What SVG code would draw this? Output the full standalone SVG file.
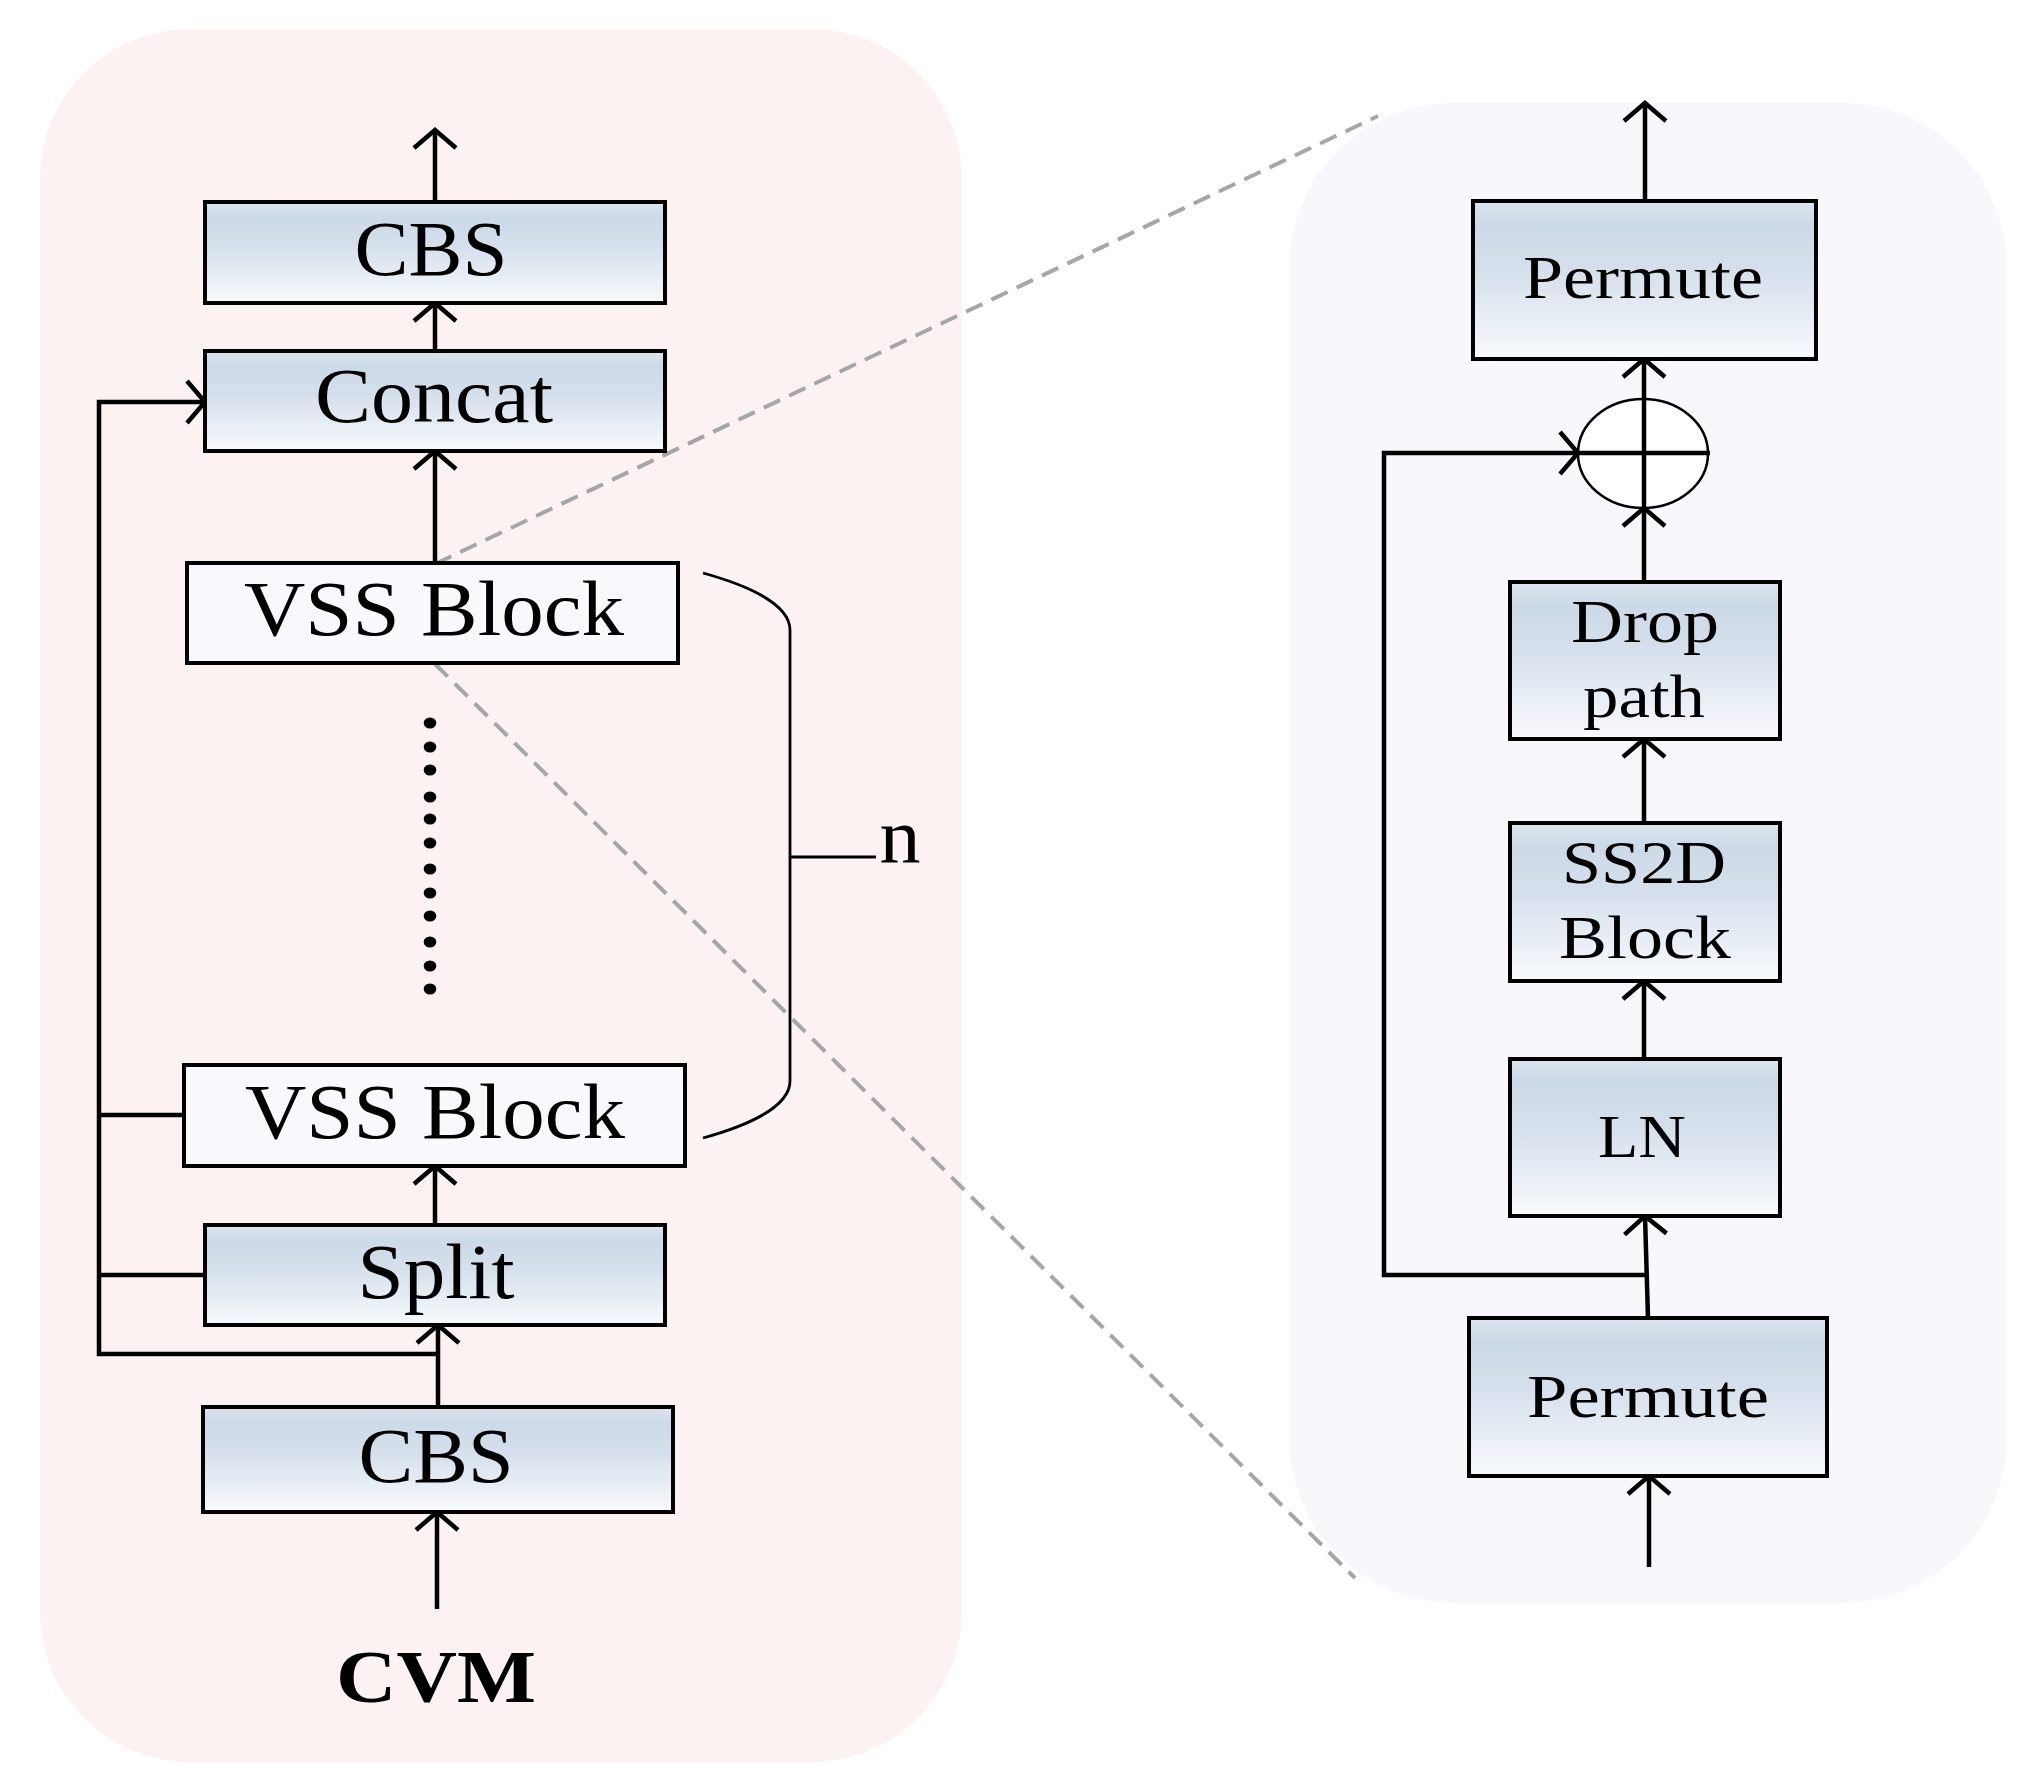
<svg xmlns="http://www.w3.org/2000/svg" width="2037" height="1779" viewBox="0 0 2037 1779">
<defs>
<linearGradient id="boxgrad" x1="0" y1="0" x2="0" y2="1">
<stop offset="0" stop-color="#DCE5EF"/>
<stop offset="0.15" stop-color="#CCD9E7"/>
<stop offset="0.45" stop-color="#D6E0EC"/>
<stop offset="1" stop-color="#F8FAFD"/>
</linearGradient>
<marker id="arr" markerUnits="userSpaceOnUse" viewBox="-24 -26 28 52" refX="0" refY="0" markerWidth="28" markerHeight="52" orient="auto" overflow="visible">
<path d="M-18,-21 L0,0 L-18,21" fill="none" stroke="#000" stroke-width="4.5"/>
</marker>
<style>
.box{fill:url(#boxgrad);stroke:#000;stroke-width:4}
.vss{fill:#F9F8FD;stroke:#000;stroke-width:4}
.t{font-family:"Liberation Serif","Times New Roman",serif;fill:#000;text-anchor:middle}
.tl{font-size:78px}
.tr{font-size:62px}
.ln{fill:none;stroke:#000;stroke-width:4.5}
.ar{fill:none;stroke:#000;stroke-width:4.5;marker-end:url(#arr)}
.dash{fill:none;stroke:#A6A6A6;stroke-width:4;stroke-dasharray:18 10}
.thin{fill:none;stroke:#000;stroke-width:2.8}
</style>
</defs>
<rect x="0" y="0" width="2037" height="1779" fill="#FFFFFF"/>
<g id="panel-left"><rect x="40" y="29" width="922" height="1733" rx="150" ry="150" fill="#FBF2F1"/></g>
<g id="panel-right"><rect x="1289" y="103" width="718" height="1500" rx="165" ry="165" fill="#F8F7FC"/></g>

<g id="connectors">
<!-- left column -->
<line class="ar" x1="435" y1="202" x2="435" y2="130"/>
<line class="ar" x1="435" y1="351" x2="435" y2="303"/>
<line class="ar" x1="435" y1="562" x2="435" y2="451"/>
<polyline class="ar" points="438,1354 99,1354 99,402 205,402"/>
<line class="ln" x1="99" y1="1115" x2="187" y2="1115"/>
<line class="ln" x1="99" y1="1275" x2="205" y2="1275"/>
<line class="ar" x1="438" y1="1407" x2="438" y2="1325"/>
<line class="ar" x1="435" y1="1225" x2="435" y2="1166"/>
<line class="ar" x1="437" y1="1609" x2="437" y2="1512"/>
<!-- brace -->
<path class="thin" d="M703,573 C750,586 790,605 790,630 L790,1081 C790,1106 750,1125 703,1138"/>
<line class="thin" x1="790" y1="857" x2="876" y2="857"/>
<!-- zoom lines -->
<line class="dash" x1="435" y1="564" x2="1378" y2="116"/>
<line class="dash" x1="435" y1="664" x2="1355" y2="1578"/>
<!-- right column -->
<line class="ar" x1="1645" y1="201" x2="1645" y2="103"/>
<line class="ar" x1="1644" y1="582" x2="1644" y2="508"/>
<line class="ar" x1="1644" y1="508" x2="1644" y2="359"/>
<polyline class="ar" points="1647,1275 1384,1275 1384,453 1578,453"/>
<line class="ar" x1="1644" y1="823" x2="1644" y2="739"/>
<line class="ar" x1="1644" y1="1059" x2="1644" y2="981"/>
<line class="ar" x1="1648" y1="1318" x2="1645" y2="1216"/>
<line class="ar" x1="1649" y1="1567" x2="1649" y2="1476"/>
</g>

<g id="dots">
<ellipse cx="430" cy="723" rx="6.3" ry="5.5"/>
<ellipse cx="430" cy="747" rx="6.3" ry="5.5"/>
<ellipse cx="430" cy="770" rx="6.3" ry="5.5"/>
<ellipse cx="430" cy="797" rx="6.3" ry="5.5"/>
<ellipse cx="430" cy="819" rx="6.3" ry="5.5"/>
<ellipse cx="430" cy="843" rx="6.3" ry="5.5"/>
<ellipse cx="430" cy="869" rx="6.3" ry="5.5"/>
<ellipse cx="430" cy="893" rx="6.3" ry="5.5"/>
<ellipse cx="430" cy="916" rx="6.3" ry="5.5"/>
<ellipse cx="430" cy="942" rx="6.3" ry="5.5"/>
<ellipse cx="430" cy="966" rx="6.3" ry="5.5"/>
<ellipse cx="430" cy="989" rx="6.3" ry="5.5"/>
</g>

<g id="cbs-top"><rect class="box" x="205" y="202" width="460" height="101"/><text class="t tl" x="431" y="275" textLength="153" lengthAdjust="spacingAndGlyphs">CBS</text></g>
<g id="concat"><rect class="box" x="205" y="351" width="460" height="100"/><text class="t tl" x="434" y="422" textLength="238" lengthAdjust="spacingAndGlyphs">Concat</text></g>
<g id="vss-top"><rect class="vss" x="187" y="563" width="491" height="100"/><text class="t tl" x="434" y="635" textLength="380" lengthAdjust="spacingAndGlyphs">VSS Block</text></g>
<g id="vss-bottom"><rect class="vss" x="184" y="1065" width="501" height="101"/><text class="t tl" x="435" y="1138" textLength="380" lengthAdjust="spacingAndGlyphs">VSS Block</text></g>
<g id="split"><rect class="box" x="205" y="1225" width="460" height="100"/><text class="t tl" x="436" y="1298" textLength="157" lengthAdjust="spacingAndGlyphs">Split</text></g>
<g id="cbs-bottom"><rect class="box" x="203" y="1407" width="470" height="105"/><text class="t tl" x="436" y="1482" textLength="155" lengthAdjust="spacingAndGlyphs">CBS</text></g>
<g id="cvm-label"><text class="t" x="436" y="1702" font-size="75" font-weight="bold" textLength="200" lengthAdjust="spacingAndGlyphs">CVM</text></g>
<g id="n-label"><text class="t" x="900" y="863" font-size="78" textLength="41" lengthAdjust="spacingAndGlyphs">n</text></g>

<g id="permute-top"><rect class="box" x="1473" y="201" width="343" height="158"/><text class="t tr" x="1643" y="298" textLength="240" lengthAdjust="spacingAndGlyphs">Permute</text></g>
<g id="add"><ellipse cx="1643" cy="453.5" rx="65" ry="54.5" fill="#FFFFFF" stroke="#000" stroke-width="2.5"/><line class="ln" x1="1578" y1="453" x2="1710" y2="453"/><line class="ln" x1="1644" y1="399" x2="1644" y2="508"/></g>
<g id="drop-path"><rect class="box" x="1510" y="582" width="270" height="157"/><text class="t tr" x="1645" y="642" textLength="148" lengthAdjust="spacingAndGlyphs">Drop</text><text class="t tr" x="1644" y="717" textLength="122" lengthAdjust="spacingAndGlyphs">path</text></g>
<g id="ss2d"><rect class="box" x="1510" y="823" width="270" height="158"/><text class="t tr" x="1644" y="883" textLength="164" lengthAdjust="spacingAndGlyphs">SS2D</text><text class="t tr" x="1645" y="958" textLength="172" lengthAdjust="spacingAndGlyphs">Block</text></g>
<g id="ln"><rect class="box" x="1510" y="1059" width="270" height="157"/><text class="t tr" x="1642" y="1157" textLength="88" lengthAdjust="spacingAndGlyphs">LN</text></g>
<g id="permute-bottom"><rect class="box" x="1469" y="1318" width="358" height="158"/><text class="t tr" x="1648" y="1417" textLength="242" lengthAdjust="spacingAndGlyphs">Permute</text></g>
</svg>
